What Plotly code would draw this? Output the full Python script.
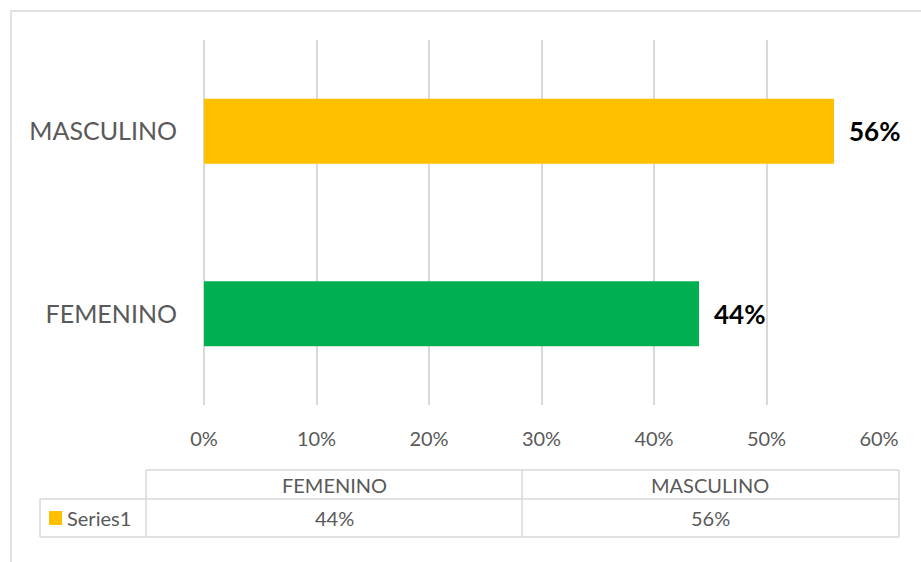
import plotly.graph_objects as go

# данные
categorias = ["FEMENINO", "MASCULINO"]
valores = [0.44, 0.56]
colores = ["#00B050", "#FFC000"]
serie = "Series1"
ticks = [0, 0.1, 0.2, 0.3, 0.4, 0.5, 0.6]
tick_labels = ["0%", "10%", "20%", "30%", "40%", "50%", "60%"]

W, H = 921, 562
L, R, T, B = 204, 42, 40, 157
pw, ph = W - L - R, H - T - B


def px(x):
    return (x - L) / pw


def py(y):
    return (H - B - y) / ph


gris = "#d9d9d9"
texto = "#595959"
fuente = "Lato"

fig = go.Figure()
fig.add_trace(go.Bar(
    x=valores, y=categorias, orientation="h",
    marker_color=colores, marker_line_width=0,
    name=serie, showlegend=False, hoverinfo="x+y"))

# etiquetas de datos
for c, v in zip(categorias, valores):
    fig.add_annotation(x=v, y=c, xref="x", yref="y", text="<b>%d%%</b>" % round(v * 100),
                       showarrow=False, xanchor="left", yanchor="middle", xshift=13,
                       font=dict(size=26, color="#000000", family=fuente))

shapes = []
# borde exterior
shapes.append(dict(type="rect", xref="paper", yref="paper",
                   x0=px(11), x1=px(930), y0=py(570), y1=py(11),
                   line=dict(color=gris, width=1.5)))
# tabla de datos
lineas = [
    (146, 470, 899, 470), (40, 499, 899, 499), (40, 537, 899, 537),
    (40, 499, 40, 537), (146, 470, 146, 537), (522, 470, 522, 537), (899, 470, 899, 537),
]
for x0, y0, x1, y1 in lineas:
    shapes.append(dict(type="line", xref="paper", yref="paper",
                       x0=px(x0), x1=px(x1), y0=py(y0), y1=py(y1),
                       line=dict(color=gris, width=1.5)))
# clave de la leyenda
shapes.append(dict(type="rect", xref="paper", yref="paper",
                   x0=px(49), x1=px(62), y0=py(525), y1=py(511),
                   fillcolor=colores[1], line_width=0))

centros = [334, 710]
for c, v, xc in zip(categorias, valores, centros):
    fig.add_annotation(x=px(xc), y=py(485), xref="paper", yref="paper", text=c,
                       showarrow=False, xanchor="center", yanchor="middle",
                       font=dict(size=20, color=texto, family=fuente))
    fig.add_annotation(x=px(xc), y=py(518), xref="paper", yref="paper",
                       text="%d%%" % round(v * 100),
                       showarrow=False, xanchor="center", yanchor="middle",
                       font=dict(size=20, color=texto, family=fuente))
fig.add_annotation(x=px(65), y=py(518), xref="paper", yref="paper", text=serie,
                   showarrow=False, xanchor="left", yanchor="middle",
                   font=dict(size=20, color=texto, family=fuente))

fig.update_layout(
    width=W, height=H,
    margin=dict(l=L, r=R, t=T, b=B),
    paper_bgcolor="white", plot_bgcolor="white",
    bargap=0.644,
    shapes=shapes,
    font=dict(family=fuente, color=texto),
)
fig.update_xaxes(range=[0, 0.6], tickvals=ticks, ticktext=tick_labels,
                 showgrid=True, gridcolor=gris, gridwidth=1.5,
                 zeroline=True, zerolinecolor=gris, zerolinewidth=1.5,
                 showline=False, ticklabelstandoff=20,
                 tickfont=dict(size=20, color=texto, family=fuente))
fig.update_yaxes(showgrid=False, zeroline=False, showline=False,
                 ticklabelstandoff=26,
                 tickfont=dict(size=25, color=texto, family=fuente))

fig.write_html("out.html", config={"displayModeBar": False},
               post_script="document.body.style.margin='0';")
